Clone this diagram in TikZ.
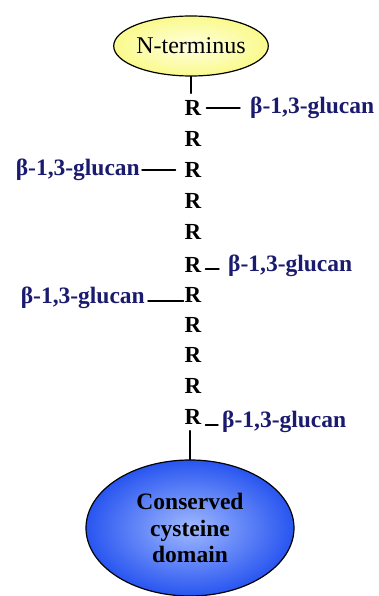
\documentclass[tikz,border=0pt]{standalone}
\usepackage{fontspec}
\setmainfont{Liberation Serif}
\newfontfamily\labelfont{Liberation Serif}
\usetikzlibrary{shapes.geometric}
\definecolor{glucanblue}{RGB}{26,26,110}
\definecolor{domainblue}{RGB}{40,85,240}
\definecolor{domainlight}{RGB}{160,185,255}
\definecolor{termyellow}{RGB}{250,250,140}
\definecolor{termlight}{RGB}{255,255,225}

\begin{document}
\begin{tikzpicture}[x=1pt,y=-1pt,line cap=round,
  residue/.style={font=\labelfont\fontsize{23}{23}\selectfont\bfseries,inner sep=0pt},
  glucan/.style={font=\labelfont\fontsize{23.5}{23.5}\selectfont\bfseries,text=glucanblue,inner sep=0pt},
  link/.style={line width=1.4pt}]
\useasboundingbox (0,0) rectangle (379,596);
% termini
\node[ellipse,draw,line width=1.2pt,inner color=termlight,outer color=termyellow,
  minimum width=152pt,minimum height=60pt,inner sep=0pt,
  font=\labelfont\fontsize{24}{24}\selectfont] (nterm) at (191,46) {N-terminus};
\node[ellipse,draw,line width=1.2pt,inner color=domainlight,outer color=domainblue,
  minimum width=208pt,minimum height=136pt,inner sep=0pt,align=center,
  font=\labelfont\fontsize{23.5}{26.5}\selectfont\bfseries] (domain) at (190,528)
  {Conserved\\cysteine\\domain};
% repeats
\foreach \y [count=\i] in {108,139,170,201,232,265,295,325,355,386,417}
  \node[residue] (r\i) at (193,\y) {R};
% side chains
\node[glucan,anchor=west] (g1) at (250,108) {β-1,3-glucan};
\node[glucan,anchor=east] (g2) at (140,170) {β-1,3-glucan};
\node[glucan,anchor=west] (g3) at (228,266) {β-1,3-glucan};
\node[glucan,anchor=east] (g4) at (145,298) {β-1,3-glucan};
\node[glucan,anchor=west] (g5) at (222,422) {β-1,3-glucan};
% backbone
\draw[link,shorten >=7pt] (nterm.south) -- (nterm.south |- r1.north);
\draw[link,shorten <=6pt] (domain.north |- r11.south) -- (domain.north);
\draw[link,shorten <=5pt,shorten >=10pt] (r1.east) -- (g1.west);
\draw[link,shorten <=2pt,shorten >=9pt] (g2.east) -- (r3.west);
\draw[link,shorten <=4pt,shorten >=9pt] ([yshift=-4pt]r6.east) -- ([yshift=-3pt]g3.west);
\draw[link,shorten <=3pt,shorten >=1pt] ([yshift=-3pt]g4.east) -- ([yshift=-6pt]r7.west);
\draw[link,shorten <=4pt,shorten >=4pt] ([yshift=-8pt]r11.east) -- ([yshift=-3pt]g5.west);
\end{tikzpicture}
\end{document}
